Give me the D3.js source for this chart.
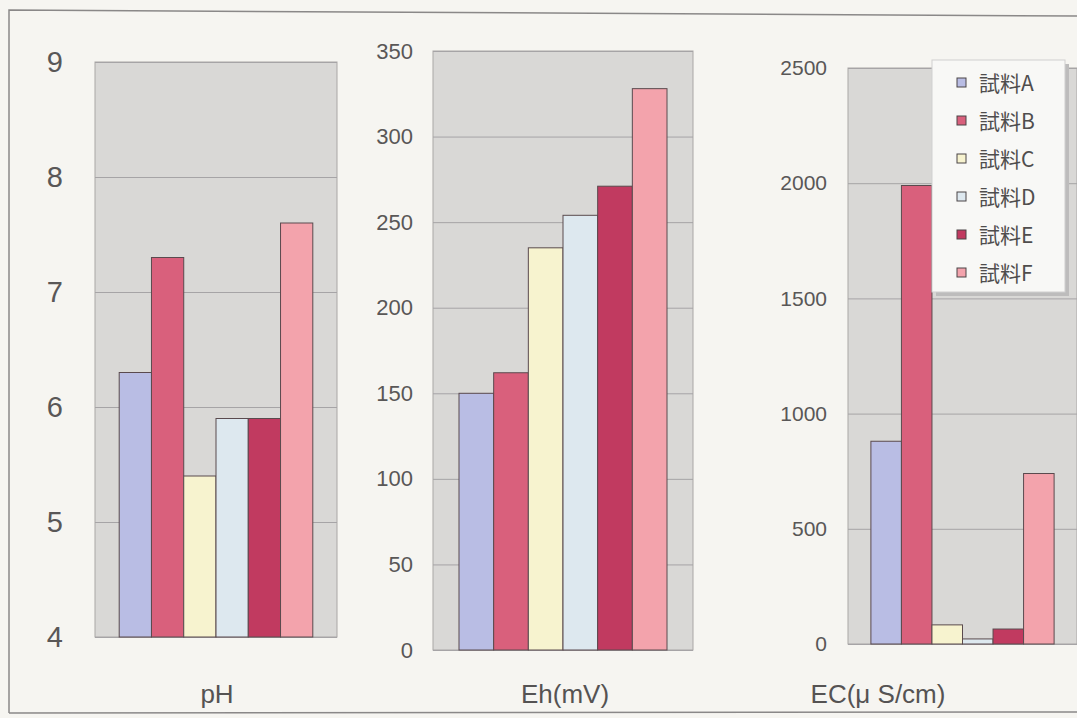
<!DOCTYPE html>
<html>
<head>
<meta charset="utf-8">
<script src="https://cdn.jsdelivr.net/npm/d3@7"></script>
<style>
  body { margin: 0; background: #f6f5f1; }
  svg { display: block; }
</style>
</head>
<body>
<svg id="chart" width="1077" height="718"></svg>
<script>
// data
var samples = ["試料A", "試料B", "試料C", "試料D", "試料E", "試料F"];
var colors = ["#b9bde4", "#d9607c", "#f7f3cf", "#dde8ef", "#c13a60", "#f3a3ac"];
var phValues = [6.3, 7.3, 5.4, 5.9, 5.9, 7.6];
var ehValues = [150, 162, 235, 254, 271, 328];
var ecValues = [880, 1990, 83, 22, 65, 740];
var phTicks = [4, 5, 6, 7, 8, 9];
var ehTicks = [0, 50, 100, 150, 200, 250, 300, 350];
var ecTicks = [0, 500, 1000, 1500, 2000, 2500];
var titles = ["pH", "Eh(mV)", "EC(\u03bc S/cm)"];

var svg = d3.select("#chart");

// outer frame of the scanned page
svg.append("path")
  .attr("d", "M9,713 L9,10 L1077,16")
  .attr("fill", "none").attr("stroke", "#8a8888").attr("stroke-width", 1.5);
svg.append("line")
  .attr("x1", 9).attr("x2", 1077).attr("y1", 713).attr("y2", 712)
  .attr("stroke", "#8a8888").attr("stroke-width", 1.5);

var panels = [
  {values: phValues, ticks: phTicks, domain: [4, 9], x0: 95, x1: 337, y0: 62, y1: 637,
   labelX: 63, fontSize: 29, titleX: 217},
  {values: ehValues, ticks: ehTicks, domain: [0, 350], x0: 433, x1: 693, y0: 51, y1: 650,
   labelX: 413, fontSize: 22, titleX: 565},
  {values: ecValues, ticks: ecTicks, domain: [0, 2500], x0: 848, x1: 1077, y0: 68, y1: 644,
   labelX: 827, fontSize: 21, titleX: 878}
];

panels.forEach(function(p, pi) {
  var g = svg.append("g");
  var y = d3.scaleLinear().domain(p.domain).range([p.y1, p.y0]);
  var x = d3.scaleBand().domain(samples).range([p.x0, p.x1])
            .paddingInner(0).paddingOuter(0.75);

  g.append("rect")
    .attr("x", p.x0).attr("y", p.y0)
    .attr("width", p.x1 - p.x0).attr("height", p.y1 - p.y0)
    .attr("fill", "#d9d8d6").attr("stroke", "#a9a7a6").attr("stroke-width", 1);

  var axis = d3.axisLeft(y).tickValues(p.ticks).tickFormat(d3.format("d"))
    .tickSize(-(p.x1 - p.x0)).tickPadding(p.x0 - p.labelX);
  var ag = g.append("g").attr("transform", "translate(" + p.x0 + ",0)").call(axis);
  ag.select(".domain").remove();
  ag.selectAll(".tick line").attr("stroke", "#a6a4a6").attr("stroke-width", 1);
  ag.selectAll(".tick text")
    .attr("fill", "#595757")
    .style("font-family", "Liberation Sans, Arial, sans-serif")
    .style("font-size", p.fontSize + "px");

  g.selectAll("rect.bar").data(p.values).enter().append("rect")
    .attr("class", "bar")
    .attr("x", function(d, i) { return x(samples[i]); })
    .attr("width", x.bandwidth())
    .attr("y", function(d) { return y(d); })
    .attr("height", function(d) { return p.y1 - y(d); })
    .attr("fill", function(d, i) { return colors[i]; })
    .attr("stroke", "#5a4a4e").attr("stroke-width", 1);

  g.append("text")
    .attr("x", p.titleX).attr("y", 703)
    .attr("text-anchor", "middle")
    .attr("fill", "#555353")
    .style("font-family", "Liberation Sans, Arial, sans-serif")
    .style("font-size", "26px")
    .text(titles[pi]);
});

// legend
var lg = svg.append("g");
lg.append("rect").attr("x", 936).attr("y", 64).attr("width", 133).attr("height", 232)
  .attr("fill", "#bdbcbc");
lg.append("rect").attr("x", 932).attr("y", 60).attr("width", 133).attr("height", 232)
  .attr("fill", "#f8f8f6").attr("stroke", "#d0cfcf");
var items = lg.selectAll("g.item").data(samples).enter().append("g")
  .attr("class", "item")
  .attr("transform", function(d, i) { return "translate(957," + (83 + i * 38) + ")"; });
items.append("rect").attr("x", 0).attr("y", -5).attr("width", 9).attr("height", 9)
  .attr("fill", function(d, i) { return colors[i]; })
  .attr("stroke", "#4a4446").attr("stroke-width", 1);
items.append("text").attr("x", 22).attr("y", 8)
  .attr("fill", "#4f4d4d")
  .style("font-family", "Noto Sans CJK JP, sans-serif")
  .style("font-size", "21px")
  .text(function(d) { return d; });
</script>
</body>
</html>
